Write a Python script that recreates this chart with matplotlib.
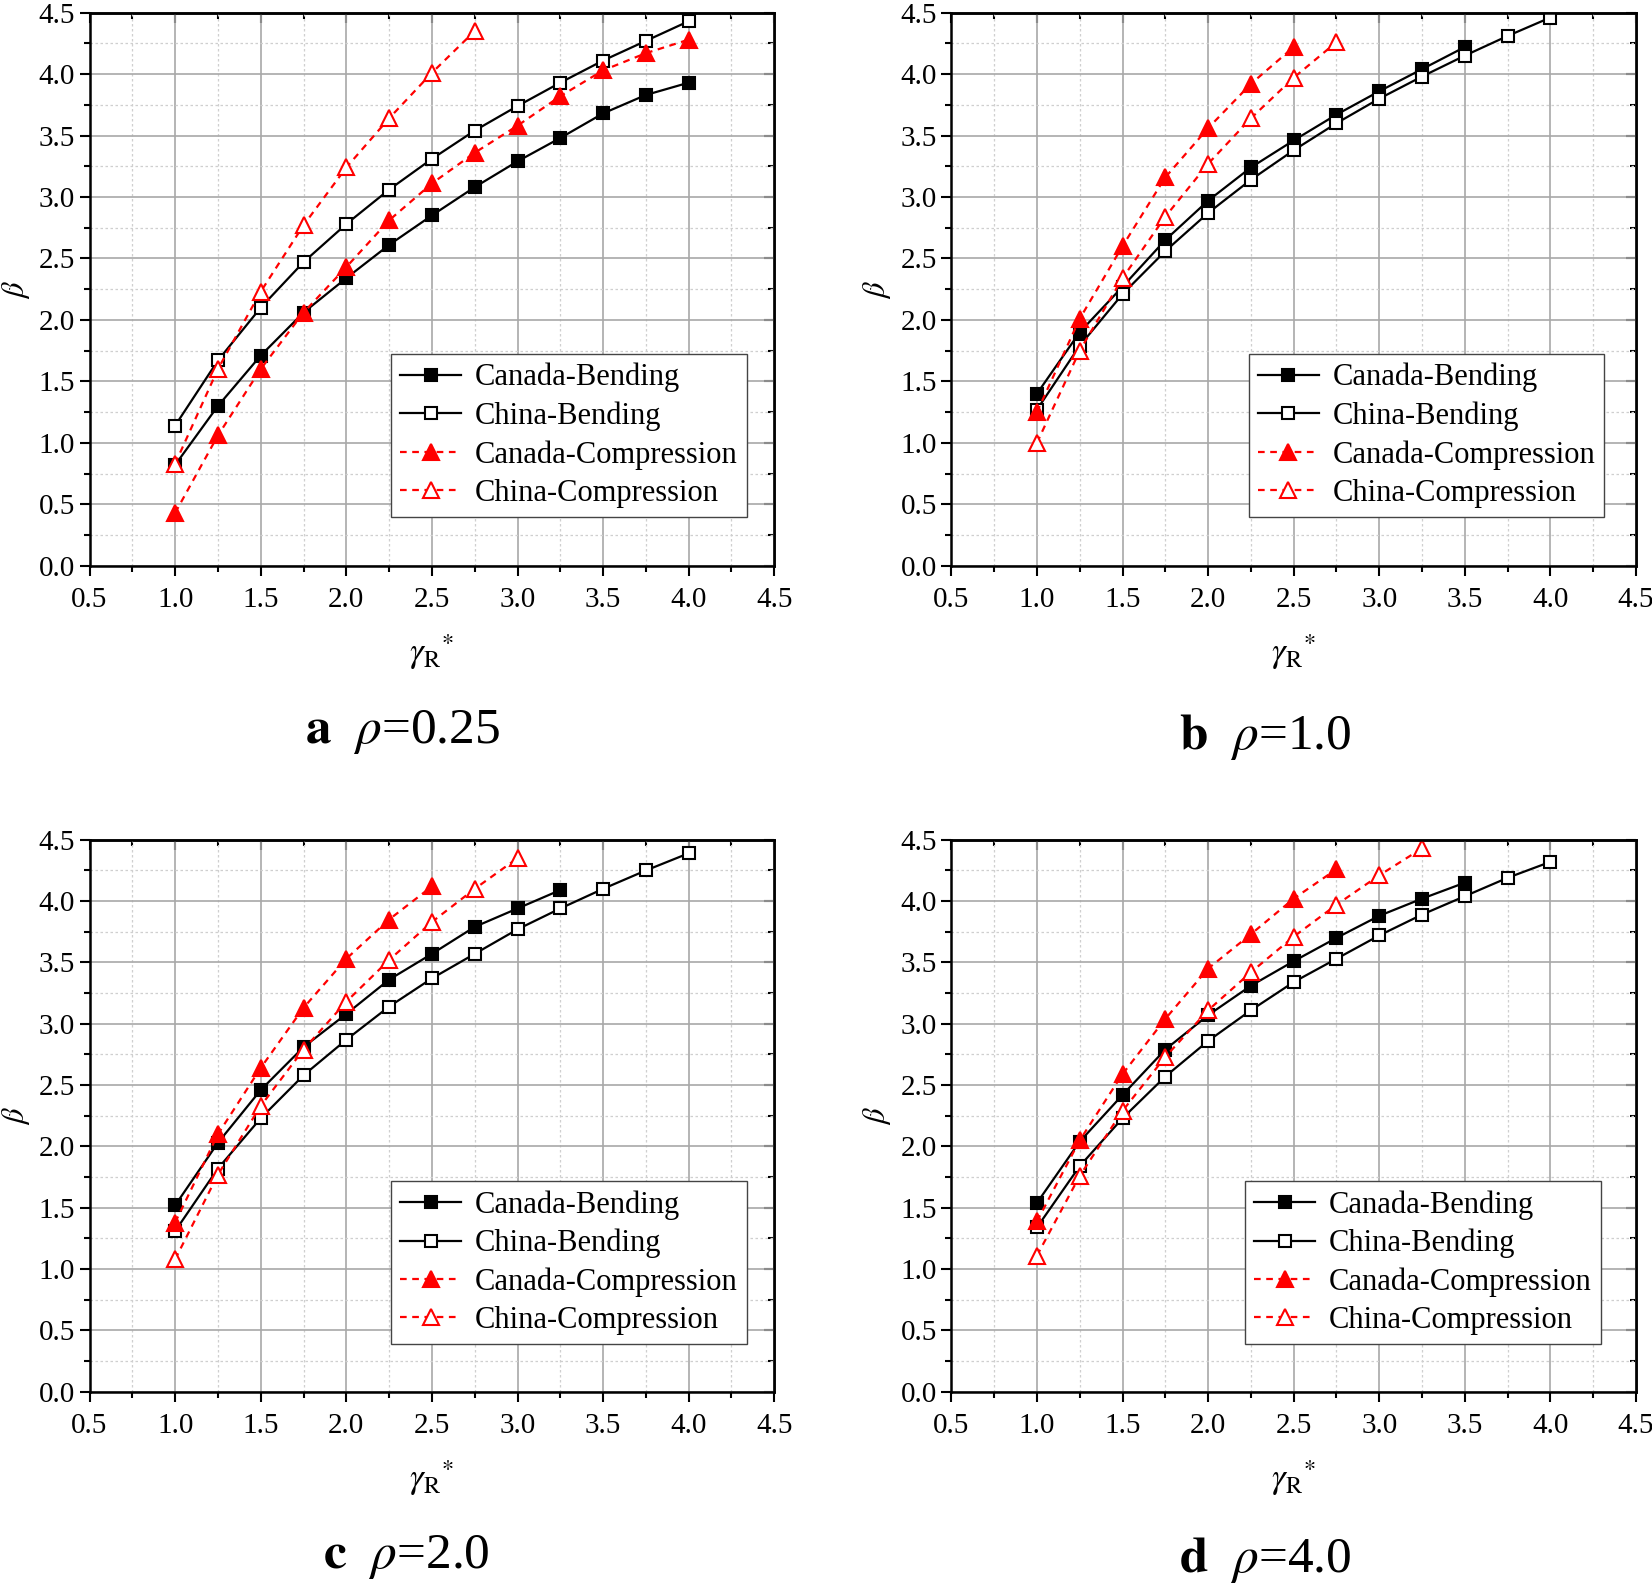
import matplotlib
matplotlib.use('Agg')
import matplotlib.pyplot as plt
from matplotlib.ticker import MultipleLocator

plt.rcParams['font.family'] = ['Liberation Serif', 'DejaVu Serif']
plt.rcParams['mathtext.fontset'] = 'stix'

gamma = [1.0, 1.25, 1.5, 1.75, 2.0, 2.25, 2.5, 2.75, 3.0, 3.25, 3.5, 3.75, 4.0]
labels = ['Canada-Bending', 'China-Bending', 'Canada-Compression', 'China-Compression']

# a  rho = 0.25
a_can_bend = [0.82, 1.30, 1.71, 2.06, 2.34, 2.61, 2.85, 3.08, 3.29, 3.48, 3.68, 3.83, 3.93]
a_chn_bend = [1.14, 1.67, 2.10, 2.47, 2.78, 3.06, 3.31, 3.54, 3.74, 3.93, 4.11, 4.27, 4.43]
a_can_comp = [0.43, 1.06, 1.60, 2.06, 2.43, 2.81, 3.11, 3.36, 3.58, 3.82, 4.03, 4.17, 4.28]
a_chn_comp = [0.83, 1.60, 2.23, 2.77, 3.24, 3.64, 4.01, 4.35]

# b  rho = 1.0
b_can_bend = [1.40, 1.90, 2.27, 2.65, 2.97, 3.24, 3.46, 3.67, 3.86, 4.04, 4.22]
b_chn_bend = [1.27, 1.79, 2.21, 2.56, 2.87, 3.14, 3.38, 3.60, 3.80, 3.98, 4.15, 4.31, 4.46]
b_can_comp = [1.25, 2.01, 2.60, 3.16, 3.56, 3.92, 4.22]
b_chn_comp = [1.00, 1.75, 2.34, 2.84, 3.27, 3.64, 3.97, 4.26]

# c  rho = 2.0
c_can_bend = [1.52, 2.03, 2.46, 2.81, 3.08, 3.36, 3.57, 3.79, 3.94, 4.09]
c_chn_bend = [1.31, 1.82, 2.23, 2.58, 2.87, 3.14, 3.37, 3.57, 3.77, 3.94, 4.10, 4.25, 4.39]
c_can_comp = [1.38, 2.10, 2.64, 3.13, 3.53, 3.85, 4.12]
c_chn_comp = [1.08, 1.77, 2.33, 2.79, 3.18, 3.52, 3.83, 4.10, 4.35]

# d  rho = 4.0
d_can_bend = [1.54, 2.04, 2.42, 2.79, 3.07, 3.31, 3.51, 3.70, 3.88, 4.02, 4.15]
d_chn_bend = [1.34, 1.84, 2.23, 2.57, 2.86, 3.11, 3.34, 3.53, 3.72, 3.89, 4.04, 4.19, 4.32]
d_can_comp = [1.39, 2.05, 2.59, 3.04, 3.45, 3.73, 4.02, 4.26]
d_chn_comp = [1.11, 1.76, 2.29, 2.73, 3.11, 3.42, 3.71, 3.97, 4.21, 4.43]

panels = [
    ('a', '0.25', [a_can_bend, a_chn_bend, a_can_comp, a_chn_comp]),
    ('b', '1.0', [b_can_bend, b_chn_bend, b_can_comp, b_chn_comp]),
    ('c', '2.0', [c_can_bend, c_chn_bend, c_can_comp, c_chn_comp]),
    ('d', '4.0', [d_can_bend, d_chn_bend, d_can_comp, d_chn_comp]),
]

positions = [
    [0.0542, 0.6453, 0.4145, 0.3468],
    [0.5759, 0.6453, 0.4144, 0.3468],
    [0.0542, 0.1274, 0.4145, 0.3461],
    [0.5759, 0.1274, 0.4144, 0.3461],
]
caption_xy = [(0.244, 0.541), (0.766, 0.538), (0.246, 0.024), (0.766, 0.022)]
legend_anchor = [(0.960, 0.088), (0.954, 0.088), (0.960, 0.086), (0.949, 0.086)]

styles = [
    dict(color='black', ls='-', marker='s', mfc='black', mec='black'),
    dict(color='black', ls='-', marker='s', mfc='white', mec='black'),
    dict(color='red', ls=(0, (3, 2.5)), marker='^', mfc='red', mec='red'),
    dict(color='red', ls=(0, (3, 2.5)), marker='^', mfc='white', mec='red'),
]

fig = plt.figure(figsize=(16.52, 15.95), dpi=100)

for (letter, rho, series), pos, cxy, lanc in zip(panels, positions, caption_xy, legend_anchor):
    ax = fig.add_axes(pos)
    for ys, st, lab in zip(series, styles, labels):
        ms = 9 if st['marker'] == 's' else 11
        ax.plot(gamma[:len(ys)], ys, lw=1.6, ms=ms, mew=1.5, label=lab, **st)

    ax.set_xlim(0.5, 4.5)
    ax.set_ylim(0, 4.5)
    for axis in (ax.xaxis, ax.yaxis):
        axis.set_major_locator(MultipleLocator(0.5))
        axis.set_minor_locator(MultipleLocator(0.25))
    ax.grid(which='major', color='#a8a8a8', lw=1.2, ls='-')
    ax.grid(which='minor', color='#cfcfcf', lw=0.9, ls=(0, (2, 2)))
    ax.set_axisbelow(True)
    ax.tick_params(which='both', direction='out', width=1.5, labelsize=21)
    ax.tick_params(axis='x', which='major', pad=8)
    ax.tick_params(which='major', length=7)
    ax.tick_params(which='minor', length=4)
    for sp in ax.spines.values():
        sp.set_linewidth(1.8)

    # inward ticks on top and right, like the original
    top = ax.secondary_xaxis('top')
    right = ax.secondary_yaxis('right')
    for sec, axis in ((top, top.xaxis), (right, right.yaxis)):
        axis.set_major_locator(MultipleLocator(0.5))
        axis.set_minor_locator(MultipleLocator(0.25))
        sec.tick_params(which='both', direction='in', width=1.5,
                        labeltop=False, labelright=False)
        sec.tick_params(which='major', length=7)
        sec.tick_params(which='minor', length=4)
        for sp in sec.spines.values():
            sp.set_linewidth(1.8)

    ax.set_xlabel(r'$\gamma_{\mathrm{R}}{}^{*}$', fontsize=25, labelpad=14)
    ax.set_ylabel(r'$\beta$', fontsize=22, labelpad=5)

    leg = ax.legend(loc='lower right', bbox_to_anchor=lanc, fontsize=22,
                    handlelength=2.0, handletextpad=0.45, borderpad=0.3,
                    labelspacing=0.3, fancybox=False, framealpha=1,
                    edgecolor='#444444', borderaxespad=0)
    leg.get_frame().set_linewidth(1.0)

    fig.text(cxy[0], cxy[1], r'$\mathbf{' + letter + r'}\ \ \rho$=' + rho,
             fontsize=37, ha='center', va='center')

fig.savefig('out.png', dpi=100)
